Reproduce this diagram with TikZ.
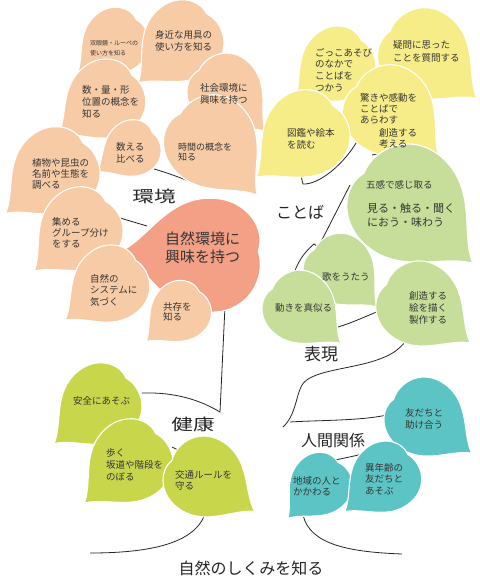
\documentclass[tikz,border=0pt]{standalone}
\usepackage{graphicx}
\usepackage{fontspec}
\setmainfont{Noto Sans CJK JP}
\definecolor{peach}{HTML}{F7CBA5}
\definecolor{salmon}{HTML}{F3A086}
\definecolor{yel}{HTML}{F6EC88}
\definecolor{lgreen}{HTML}{C6DE9A}
\definecolor{lime}{HTML}{C8D64C}
\definecolor{tealc}{HTML}{5CC4C5}
\definecolor{txtc}{HTML}{353535}
\newcommand\fs[2]{\fontsize{#1}{#2}\selectfont}
% leaf: colour, x, y, size, rotation (tip points down at rotation 0)
\newcommand\leaf[5]{%
  \path[leafsty, fill=#1, shift={(#2,#3)}, rotate=#5, scale=#4]
    (0,1.5) .. controls (-0.25,1.0) and (-1,0.7) .. (-1,-0.1)
    .. controls (-1,-0.7) and (-0.5,-1.06) .. (-0.1,-0.93)
    .. controls (0.35,-1.1) and (1,-0.8) .. (1,-0.1)
    .. controls (1,0.7) and (0.25,1.0) .. (0,1.5) -- cycle;}
\begin{document}
\begin{tikzpicture}[x=1pt,y=-1pt,
  leafsty/.style={draw=white, line width=1.1pt},
  lt/.style={anchor=west, align=left, inner sep=0pt, text=txtc},
  conn/.style={draw=black!85, line width=0.8pt},
  cat/.style={inner sep=0pt, text=black!85}]
\fill[white] (0,0) rectangle (479,580);
\useasboundingbox (0,0) rectangle (479,580);

% connector end points
\coordinate (kA1) at (154,169); \coordinate (kA2) at (203,186); \coordinate (kA3) at (205,180);
\coordinate (kB1) at (120,218); \coordinate (kB2) at (147,226);
\coordinate (kC1) at (225,306); \coordinate (kC2) at (220,412); \coordinate (kC3) at (142,393);
\coordinate (kD1) at (172,447); \coordinate (kD2) at (182,452);
\coordinate (kE1) at (207,505); \coordinate (kE2) at (90,553);
\coordinate (kF1) at (303,515); \coordinate (kF2) at (402,554);
\coordinate (kG1) at (408,337); \coordinate (kG2) at (367,363); \coordinate (kG3) at (302,385); \coordinate (kG4) at (283,427);
\coordinate (kH1) at (290,422); \coordinate (kH2) at (394,413);
\coordinate (kI1) at (413,440); \coordinate (kI2) at (335,460);
\coordinate (kJ1) at (338,327); \coordinate (kJ2) at (387,308);
\coordinate (kK1) at (360,136); \coordinate (kK2) at (303,184); \coordinate (kK3) at (300,172);
\coordinate (kL1) at (350,185); \coordinate (kL2) at (326,232); \coordinate (kL3) at (318,247); \coordinate (kL4) at (314,244); \coordinate (kL5) at (291,283);
\coordinate (kM1) at (372,155); \coordinate (kM2) at (391,151);

% connectors
\draw[conn] (kA1) .. controls (175,175) and (190,182) .. (kA2) -- (kA3);
\draw[conn] (kB1) -- (kB2);
\draw[conn] (kC1) -- (kC2) .. controls (200,400) and (175,392) .. (kC3);
\draw[conn] (kD1) -- (kD2);
\draw[conn] (kE1) .. controls (203,540) and (160,553) .. (kE2);
\draw[conn] (kF1) .. controls (310,545) and (350,552) .. (kF2);
\draw[conn] (kG1) .. controls (400,352) and (385,358) .. (kG2) .. controls (340,370) and (310,372) .. (kG3) .. controls (296,395) and (296,415) .. (kG4);
\draw[conn] (kH1) .. controls (320,420) and (370,421) .. (kH2);
\draw[conn] (kI1) .. controls (390,448) and (360,455) .. (kI2);
\draw[conn] (kJ1) .. controls (355,322) and (375,312) .. (kJ2);
\draw[conn] (kK1) .. controls (345,165) and (318,185) .. (kK2) -- (kK3);
\draw[conn] (kL1) -- (kL2) -- (kL3) -- (kL4) .. controls (300,256) and (295,268) .. (kL5);
\draw[conn] (kM1) -- (kM2);

% peach leaves
\leaf{peach}{115}{42}{33}{-50}
\leaf{peach}{182}{42}{40}{-47}
\leaf{peach}{105}{100}{39}{-53}
\leaf{peach}{226}{92}{37}{45}
\leaf{peach}{212}{143}{46}{41}
\leaf{peach}{132}{149}{28}{-57}
\leaf{peach}{55}{172}{43}{-50}
\leaf{peach}{80}{230}{41}{-48}
\leaf{salmon}{205}{255}{57}{-92}
\leaf{peach}{110}{285}{38}{-52}
\leaf{peach}{180}{312}{30}{-49}
% yellow leaves
\leaf{yel}{337}{65}{37}{-50}
\leaf{yel}{425}{55}{45}{50}
\leaf{yel}{390}{112}{45}{47}
\leaf{yel}{305}{135}{43}{-49}
% green leaves
\leaf{lgreen}{408}{205}{58}{48}
\leaf{lgreen}{340}{270}{35}{45}
\leaf{lgreen}{300}{308}{36}{49}
\leaf{lgreen}{420}{305}{42}{53}
% lime leaves
\leaf{lime}{100}{405}{40}{-50}
\leaf{lime}{130}{462}{41}{-48}
\leaf{lime}{205}{478}{40}{56}
% teal leaves
\leaf{tealc}{425}{418}{39}{53}
\leaf{tealc}{320}{485}{31}{-44}
\leaf{tealc}{385}{478}{35}{-50}

% leaf texts
\node[lt, font=\fs{6}{10}] (tA) at (90,48) {双眼鏡・ルーペの\\使い方を知る};
\node[lt, font=\fs{9.5}{12}] (tB) at (155,41) {身近な用具の\\使い方を知る};
\node[lt, font=\fs{9.5}{11.5}] (tC) at (200,94) {社会環境に\\興味を持つ};
\node[lt, font=\fs{9.5}{12}] (tD) at (82,102) {数・量・形\\位置の概念を\\知る};
\node[lt, font=\fs{9}{10.5}] (tTm) at (178,152) {時間の概念を\\知る};
\node[lt, font=\fs{9.5}{12.5}] (tE) at (116,153) {数える\\比べる};
\node[lt, font=\fs{9.5}{11}] (tF) at (32,174) {植物や昆虫の\\名前や生態を\\調べる};
\node[lt, font=\fs{9.5}{11}] (tG) at (52,233) {集める\\グループ分け\\をする};
\node[lt, font=\fs{9.5}{11.5}] (tH) at (90,290) {自然の\\システムに\\気づく};
\node[lt, font=\fs{9.5}{10.5}] (tI) at (163,312) {共存を\\知る};
\node[lt, font=\fs{15}{17.5}] (tJ) at (165,248) {自然環境に\\興味を持つ};
\node[lt, font=\fs{9.5}{11.7}] (tK) at (315,70) {ごっこあそび\\のなかで\\ことばを\\つかう};
\node[lt, font=\fs{9.5}{13}] (tL) at (393,51) {疑問に思った\\ことを質問する};
\node[lt, font=\fs{9.5}{11}] (tM1) at (360,109) {驚きや感動を\\ことばで\\あらわす};
\node[lt, font=\fs{9.5}{11}] (tM2) at (379,138.5) {創造する\\考える};
\node[lt, font=\fs{9.5}{12}] (tN) at (287,139) {図鑑や絵本\\を読む};
\node[lt, font=\fs{9.5}{12}] (tO1) at (366,185) {五感で感じ取る};
\node[lt, font=\fs{11}{14}] (tO2) at (367,215) {見る・触る・聞く\\におう・味わう};
\node[lt, font=\fs{9.5}{12}] (tP) at (322,277) {歌をうたう};
\node[lt, font=\fs{9.5}{12}] (tQ) at (275,308) {動きを真似る};
\node[lt, font=\fs{9.5}{12}] (tR) at (409,308) {創造する\\絵を描く\\製作する};
\node[lt, font=\fs{9.5}{12}] (tS) at (73,401) {安全にあそぶ};
\node[lt, font=\fs{9.5}{12}] (tT) at (106,465) {歩く\\坂道や階段を\\のぼる};
\node[lt, font=\fs{9.5}{11}] (tU) at (175,480) {交通ルールを\\守る};
\node[lt, font=\fs{9.5}{12}] (tV) at (405,419) {友だちと\\助け合う};
\node[lt, font=\fs{9.5}{11}] (tW) at (293,486) {地域の人と\\かかわる};
\node[lt, font=\fs{9.5}{11.5}] (tX) at (365,479) {異年齢の\\友だちと\\あそぶ};

% category labels
\node[cat, font=\fs{16}{16}] (cEnv) at (154,196) {\scalebox{1.35}[1]{環境}};
\node[cat, font=\fs{16}{16}] (cWord) at (300,212) {ことば};
\node[cat, font=\fs{17}{17}] (cExp) at (321,354) {表現};
\node[cat, font=\fs{16}{16}] (cHum) at (333,440) {人間関係};
\node[cat, font=\fs{16}{16}] (cHlth) at (193,424) {\scalebox{1.35}[1]{健康}};
\node[cat, font=\fs{16}{16}] (cTitle) at (251,568) {自然のしくみを知る};
\end{tikzpicture}
\end{document}
